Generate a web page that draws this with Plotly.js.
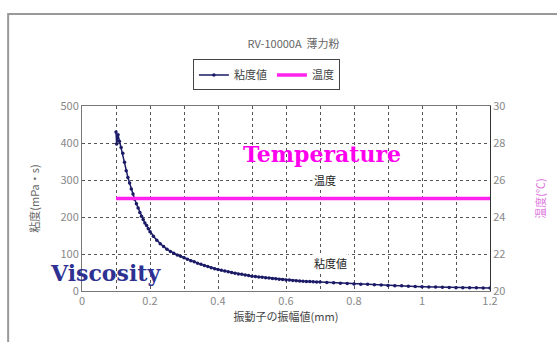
<!DOCTYPE html>
<html><head><meta charset="utf-8">
<script src="https://cdn.plot.ly/plotly-3.0.1.min.js"></script>
<style>html,body{margin:0;padding:0;background:#fff}#c{width:557px;height:342px}</style>
</head><body><div id="c"></div>
<script>
const amplitude = [0.100,0.102,0.106,0.110,0.115,0.120,0.125,0.130,0.135,0.140,0.145,0.150,0.155,0.160,0.165,0.170,0.175,0.180,0.185,0.190,0.195,
0.20,0.21,0.22,0.23,0.24,0.25,0.26,0.27,0.28,0.29,0.30,0.31,0.32,0.33,0.34,0.35,0.36,0.37,0.38,0.39,
0.40,0.41,0.42,0.43,0.44,0.45,0.46,0.47,0.48,0.49,0.50,0.51,0.52,0.53,0.54,0.55,0.56,0.57,0.58,0.59,
0.60,0.61,0.62,0.63,0.64,0.65,0.66,0.67,0.68,0.69,0.70,0.72,0.74,0.76,0.78,0.80,0.82,0.84,0.86,0.88,
0.90,0.92,0.94,0.96,0.98,1.00,1.02,1.04,1.06,1.08,1.10,1.12,1.14,1.16,1.18,1.20];
const viscosity = [430,397,422,405,388,372,348,325,307,292,276,262,248,236,224,212,202,193,184,177,168,
160,148,137,128,120,113,107,102,97,94,90,86,82,79,75,72,69,66,63,60,
58,56,54,52,50,48,46,45,43,42,40,39,38,37,36,35,34,33,32,31,
30,29.5,28.5,28,27,26.5,26,25.5,25,24.5,24,23,22,21,20,19,18.5,18,17,16,
15,14.5,14,13,12,11.5,11,10.5,10,9.5,9,9,8.5,8.5,8,8];
const temperature = amplitude.map(() => 25.0);
const seriesNames = ['粘度値', '温度'];
const chartTitle = 'RV-10000A  薄力粉';
const xTitle = '振動子の振幅値(mm)';
const y1Title = '粘度(mPa・s)';
const y2Title = '温度(℃)';
const xTickVals = [0,0.2,0.4,0.6,0.8,1,1.2];
const xTickText = ['0','0.2','0.4','0.6','0.8','1','1.2'];

const F = 'Noto Sans CJK JP, sans-serif';
const data = [
  {x: amplitude, y: viscosity, name: seriesNames[0], type:'scatter', mode:'lines+markers',
   line:{color:'#1a1a66', width:1.5}, marker:{color:'#1a1a66', size:3.5}},
  {x: amplitude, y: temperature, name: seriesNames[1], type:'scatter', mode:'lines', yaxis:'y2',
   line:{color:'#ff22ee', width:3.5}}
];
const gridStyle = {gridcolor:'#555', griddash:'dot', gridwidth:1};
const layout = {
  width:557, height:342,
  margin:{l:82, r:67, t:106, b:51},
  paper_bgcolor:'#fff', plot_bgcolor:'#fff',
  font:{family:F, size:11, color:'#666'},
  showlegend:true,
  title:{text:chartTitle, x:0.527, xanchor:'center', y:0.87, yanchor:'middle', font:{family:F, size:11, color:'#666'}},
  legend:{orientation:'h', x:0.452, xanchor:'center', y:1.168, yanchor:'middle',
          bordercolor:'#444', borderwidth:1, font:{family:F, size:11, color:'#444'}, bgcolor:'#fff',
          itemwidth:30, tracegroupgap:0},
  xaxis:{range:[0,1.2], tickvals:xTickVals, ticktext:xTickText, showgrid:true, ...gridStyle,
         minor:{dtick:0.1, showgrid:true, gridcolor:'#555', griddash:'dot'},
         showline:true, linecolor:'#777', linewidth:1, mirror:true, zeroline:false,
         ticks:'', tickfont:{family:F, size:11, color:'#888'},
         title:{text:xTitle, font:{family:F, size:11, color:'#444'}, standoff:6}},
  yaxis:{range:[0,500], dtick:100, showgrid:true, ...gridStyle, showline:true, linecolor:'#777',
         zeroline:false, ticks:'', tickfont:{family:F, size:11, color:'#888'},
         title:{text:y1Title, font:{family:F, size:11, color:'#666'}, standoff:18}},
  yaxis2:{range:[20,30], dtick:2, overlaying:'y', side:'right', showgrid:false, showline:true,
          linecolor:'#333', linewidth:1, zeroline:false, ticks:'', tickfont:{family:F, size:11, color:'#888'},
          title:{text:y2Title, font:{family:F, size:11, color:'#dd77dd'}, standoff:32}},
  shapes:[{type:'rect', xref:'paper', yref:'paper', x0:-0.181, x1:1.2, y0:-0.3, y1:1.497,
           line:{color:'#999', width:2}, fillcolor:'rgba(0,0,0,0)', layer:'below'}],
  annotations:[
    {xref:'x', yref:'y', x:0.706, y:370, text:'<b>Temperature</b>', showarrow:false,
     font:{family:'DejaVu Serif, serif', size:22, color:'#ff00ee'}},
    {xref:'x', yref:'y', x:0.07, y:48, text:'<b>Viscosity</b>', showarrow:false,
     font:{family:'DejaVu Serif, serif', size:22, color:'#2e3192'}},
    {xref:'x', yref:'y2', x:0.715, y:26.0, text:'温度', showarrow:false, bgcolor:'#fff',
     font:{family:F, size:11, color:'#222'}},
    {xref:'x', yref:'y2', x:0.73, y:21.5, text:'粘度値', showarrow:false, bgcolor:'#fff',
     font:{family:F, size:11, color:'#222'}}
  ]
};
Plotly.newPlot('c', data, layout, {displayModeBar:false, staticPlot:true});
</script></body></html>
